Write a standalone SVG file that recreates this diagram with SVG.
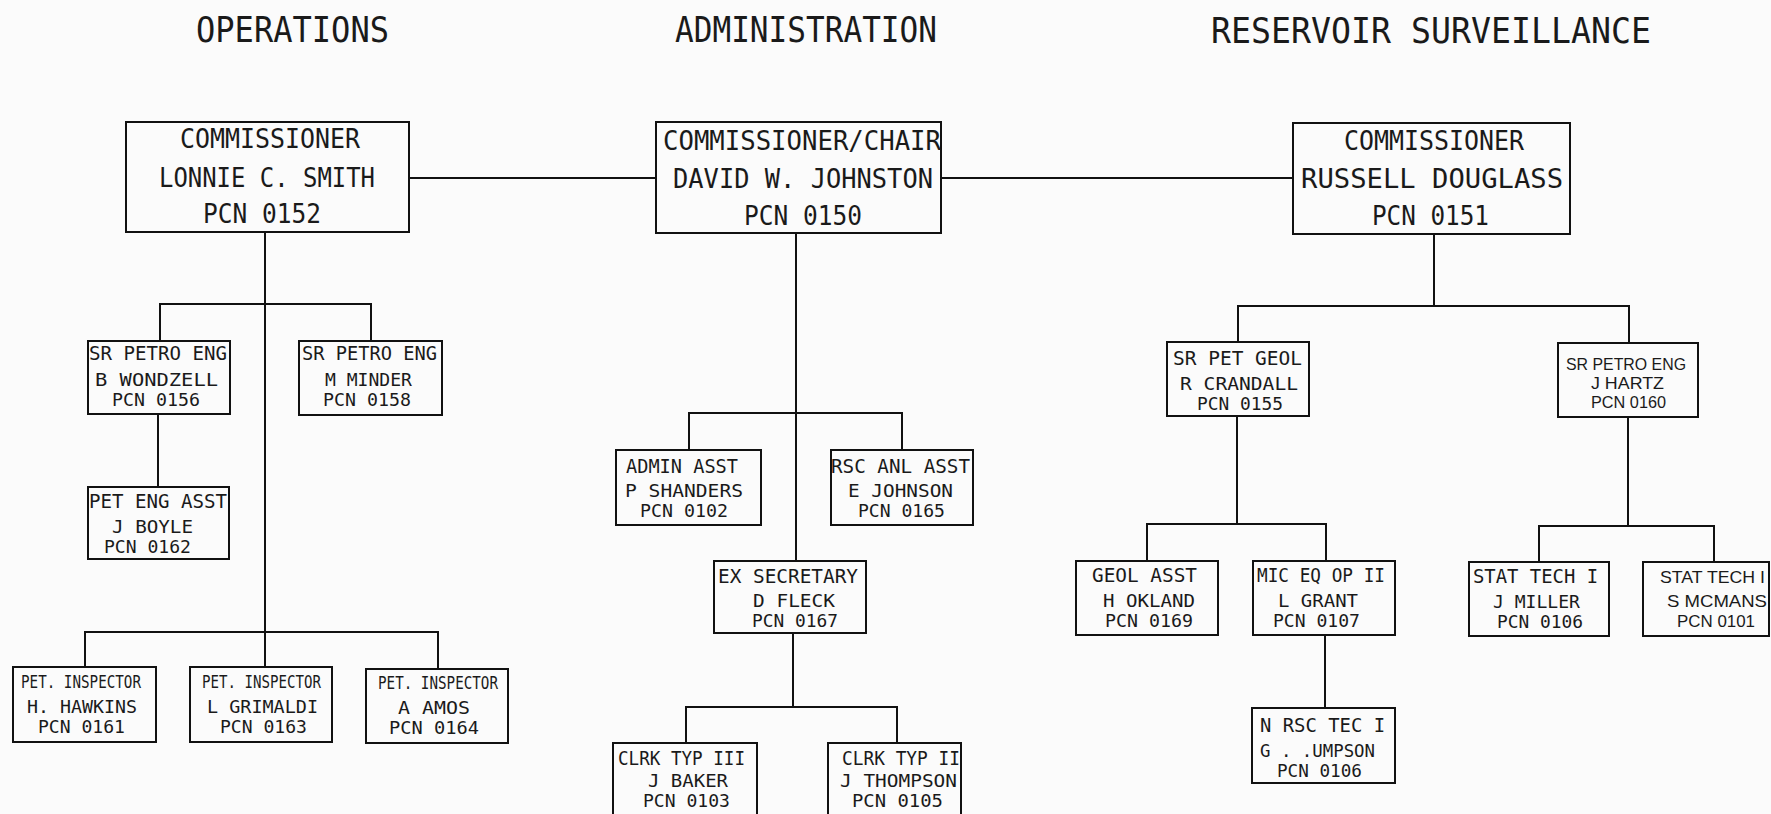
<svg xmlns="http://www.w3.org/2000/svg" width="1771" height="814" viewBox="0 0 1771 814">
<style>
.bg{fill:#fbfbfb}
.box{fill:none;stroke:#111;stroke-width:2}
.c{fill:none;stroke:#111;stroke-width:2}
text{font-family:"DejaVu Sans Mono","Liberation Mono",monospace;fill:#1a1a1a}
.h{font-size:36px}
.l{font-size:26px}
.m{font-size:20px}
.n{font-size:18px}
.s{font-size:17px}
.sans{font-family:"Liberation Sans",Arial,sans-serif;font-size:17px}
</style>
<rect class="bg" x="0" y="0" width="1771" height="814"/>

<g id="titles">
<text class="h" x="196" y="42" textLength="193" lengthAdjust="spacingAndGlyphs">OPERATIONS</text>
<text class="h" x="675" y="42" textLength="262" lengthAdjust="spacingAndGlyphs">ADMINISTRATION</text>
<text class="h" x="1211" y="43" textLength="440" lengthAdjust="spacingAndGlyphs">RESERVOIR SURVEILLANCE</text>
</g>

<g id="connectors">
<path class="c" d="M409 178H656M941 178H1293"/>
<path class="c" d="M265 232V667M160 341V304H371V341M158 414V487M85 667V632H438V669"/>
<path class="c" d="M796 233V561M689 450V413H902V450M793 633V707M686 743V707H897V743"/>
<path class="c" d="M1434 234V306M1238 342V306H1629V343M1237 416V524M1147 561V524H1326V561M1325 635V708M1628 417V526M1539 562V526H1714V562"/>
</g>

<g id="ops-commissioner">
<rect class="box" x="126" y="122" width="283" height="110"/>
<text class="l" x="180" y="148" textLength="180" lengthAdjust="spacingAndGlyphs">COMMISSIONER</text>
<text class="l" x="159" y="187" textLength="216" lengthAdjust="spacingAndGlyphs">LONNIE C. SMITH</text>
<text class="l" x="203" y="223" textLength="118" lengthAdjust="spacingAndGlyphs">PCN 0152</text>
</g>
<g id="admin-chair">
<rect class="box" x="656" y="122" width="285" height="111"/>
<text class="l" x="663" y="150" textLength="278" lengthAdjust="spacingAndGlyphs">COMMISSIONER/CHAIR</text>
<text class="l" x="673" y="188" textLength="260" lengthAdjust="spacingAndGlyphs">DAVID W. JOHNSTON</text>
<text class="l" x="744" y="225" textLength="118" lengthAdjust="spacingAndGlyphs">PCN 0150</text>
</g>
<g id="rs-commissioner">
<rect class="box" x="1293" y="123" width="277" height="111"/>
<text class="l" x="1344" y="150" textLength="180" lengthAdjust="spacingAndGlyphs">COMMISSIONER</text>
<text class="l" x="1301" y="188" textLength="262" lengthAdjust="spacingAndGlyphs">RUSSELL DOUGLASS</text>
<text class="l" x="1372" y="225" textLength="117" lengthAdjust="spacingAndGlyphs">PCN 0151</text>
</g>

<g id="wondzell">
<rect class="box" x="88" y="341" width="142" height="73"/>
<text class="m" x="89" y="360" textLength="138" lengthAdjust="spacingAndGlyphs">SR PETRO ENG</text>
<text class="n" x="95" y="386" textLength="123" lengthAdjust="spacingAndGlyphs">B WONDZELL</text>
<text class="n" x="112" y="406" textLength="88" lengthAdjust="spacingAndGlyphs">PCN 0156</text>
</g>
<g id="minder">
<rect class="box" x="299" y="341" width="143" height="74"/>
<text class="m" x="302" y="360" textLength="135" lengthAdjust="spacingAndGlyphs">SR PETRO ENG</text>
<text class="n" x="325" y="386" textLength="87" lengthAdjust="spacingAndGlyphs">M MINDER</text>
<text class="n" x="323" y="406" textLength="88" lengthAdjust="spacingAndGlyphs">PCN 0158</text>
</g>
<g id="boyle">
<rect class="box" x="88" y="487" width="141" height="72"/>
<text class="m" x="89" y="508" textLength="138" lengthAdjust="spacingAndGlyphs">PET ENG ASST</text>
<text class="n" x="112" y="533" textLength="81" lengthAdjust="spacingAndGlyphs">J BOYLE</text>
<text class="n" x="104" y="553" textLength="87" lengthAdjust="spacingAndGlyphs">PCN 0162</text>
</g>
<g id="hawkins">
<rect class="box" x="13" y="667" width="143" height="75"/>
<text class="s" x="21" y="688" textLength="120" lengthAdjust="spacingAndGlyphs">PET. INSPECTOR</text>
<text class="n" x="27" y="713" textLength="110" lengthAdjust="spacingAndGlyphs">H. HAWKINS</text>
<text class="n" x="38" y="733" textLength="87" lengthAdjust="spacingAndGlyphs">PCN 0161</text>
</g>
<g id="grimaldi">
<rect class="box" x="190" y="667" width="142" height="75"/>
<text class="s" x="202" y="688" textLength="119" lengthAdjust="spacingAndGlyphs">PET. INSPECTOR</text>
<text class="n" x="207" y="713" textLength="111" lengthAdjust="spacingAndGlyphs">L GRIMALDI</text>
<text class="n" x="220" y="733" textLength="87" lengthAdjust="spacingAndGlyphs">PCN 0163</text>
</g>
<g id="amos">
<rect class="box" x="366" y="669" width="142" height="74"/>
<text class="s" x="378" y="689" textLength="120" lengthAdjust="spacingAndGlyphs">PET. INSPECTOR</text>
<text class="n" x="398" y="714" textLength="72" lengthAdjust="spacingAndGlyphs">A AMOS</text>
<text class="n" x="389" y="734" textLength="90" lengthAdjust="spacingAndGlyphs">PCN 0164</text>
</g>

<g id="shanders">
<rect class="box" x="616" y="450" width="145" height="75"/>
<text class="m" x="626" y="473" textLength="112" lengthAdjust="spacingAndGlyphs">ADMIN ASST</text>
<text class="n" x="625" y="497" textLength="118" lengthAdjust="spacingAndGlyphs">P SHANDERS</text>
<text class="n" x="640" y="517" textLength="88" lengthAdjust="spacingAndGlyphs">PCN 0102</text>
</g>
<g id="johnson">
<rect class="box" x="831" y="450" width="142" height="75"/>
<text class="m" x="831" y="473" textLength="139" lengthAdjust="spacingAndGlyphs">RSC ANL ASST</text>
<text class="n" x="848" y="497" textLength="105" lengthAdjust="spacingAndGlyphs">E JOHNSON</text>
<text class="n" x="858" y="517" textLength="87" lengthAdjust="spacingAndGlyphs">PCN 0165</text>
</g>
<g id="fleck">
<rect class="box" x="714" y="561" width="152" height="72"/>
<text class="m" x="718" y="583" textLength="140" lengthAdjust="spacingAndGlyphs">EX SECRETARY</text>
<text class="n" x="753" y="607" textLength="82" lengthAdjust="spacingAndGlyphs">D FLECK</text>
<text class="n" x="752" y="627" textLength="86" lengthAdjust="spacingAndGlyphs">PCN 0167</text>
</g>
<g id="baker">
<rect class="box" x="613" y="743" width="144" height="82"/>
<text class="m" x="618" y="765" textLength="127" lengthAdjust="spacingAndGlyphs">CLRK TYP III</text>
<text class="n" x="648" y="787" textLength="80" lengthAdjust="spacingAndGlyphs">J BAKER</text>
<text class="n" x="643" y="807" textLength="87" lengthAdjust="spacingAndGlyphs">PCN 0103</text>
</g>
<g id="thompson">
<rect class="box" x="828" y="743" width="133" height="82"/>
<text class="m" x="842" y="765" textLength="118" lengthAdjust="spacingAndGlyphs">CLRK TYP II</text>
<text class="n" x="840" y="787" textLength="117" lengthAdjust="spacingAndGlyphs">J THOMPSON</text>
<text class="n" x="852" y="807" textLength="91" lengthAdjust="spacingAndGlyphs">PCN 0105</text>
</g>

<g id="crandall">
<rect class="box" x="1167" y="342" width="142" height="74"/>
<text class="m" x="1173" y="365" textLength="129" lengthAdjust="spacingAndGlyphs">SR PET GEOL</text>
<text class="n" x="1180" y="390" textLength="118" lengthAdjust="spacingAndGlyphs">R CRANDALL</text>
<text class="n" x="1197" y="410" textLength="86" lengthAdjust="spacingAndGlyphs">PCN 0155</text>
</g>
<g id="hartz">
<rect class="box" x="1558" y="343" width="140" height="74"/>
<text class="sans" x="1566" y="370" textLength="120" lengthAdjust="spacingAndGlyphs">SR PETRO ENG</text>
<text class="sans" x="1591" y="389" textLength="73" lengthAdjust="spacingAndGlyphs">J HARTZ</text>
<text class="sans" x="1591" y="408" textLength="75" lengthAdjust="spacingAndGlyphs">PCN 0160</text>
</g>
<g id="okland">
<rect class="box" x="1076" y="561" width="142" height="74"/>
<text class="m" x="1092" y="582" textLength="105" lengthAdjust="spacingAndGlyphs">GEOL ASST</text>
<text class="n" x="1103" y="607" textLength="92" lengthAdjust="spacingAndGlyphs">H OKLAND</text>
<text class="n" x="1105" y="627" textLength="88" lengthAdjust="spacingAndGlyphs">PCN 0169</text>
</g>
<g id="grant">
<rect class="box" x="1253" y="561" width="142" height="74"/>
<text class="m" x="1257" y="582" textLength="128" lengthAdjust="spacingAndGlyphs">MIC EQ OP II</text>
<text class="n" x="1278" y="607" textLength="80" lengthAdjust="spacingAndGlyphs">L GRANT</text>
<text class="n" x="1273" y="627" textLength="87" lengthAdjust="spacingAndGlyphs">PCN 0107</text>
</g>
<g id="g-thompson">
<rect class="box" x="1252" y="708" width="143" height="75"/>
<text class="m" x="1260" y="732" textLength="125" lengthAdjust="spacingAndGlyphs">N RSC TEC I</text>
<text class="n" x="1260" y="757" textLength="115" lengthAdjust="spacingAndGlyphs">G . .UMPSON</text>
<text class="n" x="1277" y="777" textLength="85" lengthAdjust="spacingAndGlyphs">PCN 0106</text>
</g>
<g id="miller">
<rect class="box" x="1469" y="562" width="140" height="74"/>
<text class="m" x="1473" y="583" textLength="125" lengthAdjust="spacingAndGlyphs">STAT TECH I</text>
<text class="n" x="1493" y="608" textLength="87" lengthAdjust="spacingAndGlyphs">J MILLER</text>
<text class="n" x="1497" y="628" textLength="86" lengthAdjust="spacingAndGlyphs">PCN 0106</text>
</g>
<g id="mcmans">
<rect class="box" x="1643" y="562" width="126" height="74"/>
<text class="sans" x="1660" y="583" textLength="105" lengthAdjust="spacingAndGlyphs">STAT TECH I</text>
<text class="sans" x="1667" y="607" textLength="100" lengthAdjust="spacingAndGlyphs">S MCMANS</text>
<text class="sans" x="1677" y="627" textLength="78" lengthAdjust="spacingAndGlyphs">PCN 0101</text>
</g>
</svg>
